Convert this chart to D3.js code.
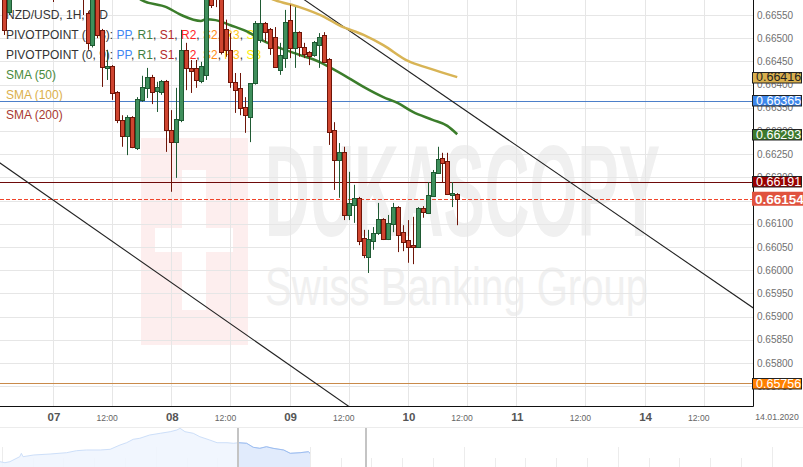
<!DOCTYPE html>
<html><head><meta charset="utf-8">
<script src="https://cdn.jsdelivr.net/npm/d3@7"></script>
<style>html,body{margin:0;padding:0;background:#fff;overflow:hidden}text{font-family:"Liberation Sans",Arial,sans-serif}</style>
</head><body>
<svg id="c" width="803" height="467"></svg>
<script>
// ---------- DATA ----------
// hour index relative to 07.01.2020 00:00
const hourIdx = [-10,-9,-8,-7,-6,-5,-4,-3,-2,-1,0,1,2,3,4,5,6,7,8,9,10,11,12,13,14,15,16,17,18,19,20,21,22,23,24,25,26,27,28,29,30,31,32,33,34,35,36,37,38,39,40,41,42,43,44,45,46,47,48,49,50,51,52,53,54,55,56,57,58,59,60,61,62,63,64,65,66,67,68,69,70,71,72,73,74,75,76,77,78,79,80,81,82];
const opens = [0.66590,0.66556,0.66600,0.66635,0.66650,0.66640,0.66660,0.66680,0.66670,0.66650,0.66630,0.66600,0.66630,0.66645,0.66640,0.66615,0.66620,0.66554,0.66485,0.66600,0.66518,0.66436,0.66440,0.66384,0.66324,0.66289,0.66330,0.66263,0.66367,0.66393,0.66416,0.66386,0.66384,0.66408,0.66302,0.66276,0.66324,0.66475,0.66436,0.66436,0.66408,0.66421,0.66600,0.66600,0.66590,0.66520,0.66475,0.66406,0.66393,0.66352,0.66330,0.66403,0.66496,0.66533,0.66520,0.66503,0.66431,0.66457,0.66539,0.66479,0.66513,0.66481,0.66470,0.66464,0.66485,0.66507,0.66455,0.66302,0.66238,0.66255,0.66119,0.66141,0.66156,0.66069,0.66029,0.66063,0.66080,0.66110,0.66067,0.66100,0.66136,0.66082,0.66065,0.66054,0.66050,0.66134,0.66123,0.66160,0.66210,0.66242,0.66235,0.66162,0.66164];
const highs = [0.66600,0.66615,0.66645,0.66660,0.66670,0.66665,0.66690,0.66700,0.66685,0.66665,0.66645,0.66640,0.66660,0.66670,0.66650,0.66635,0.66630,0.66558,0.66600,0.66610,0.66520,0.66475,0.66442,0.66386,0.66334,0.66334,0.66332,0.66373,0.66419,0.66436,0.66421,0.66406,0.66410,0.66410,0.66345,0.66393,0.66518,0.66490,0.66453,0.66453,0.66449,0.66610,0.66610,0.66615,0.66600,0.66540,0.66511,0.66425,0.66425,0.66373,0.66403,0.66537,0.66590,0.66535,0.66522,0.66524,0.66490,0.66561,0.66572,0.66567,0.66515,0.66490,0.66472,0.66494,0.66511,0.66513,0.66457,0.66319,0.66274,0.66266,0.66212,0.66184,0.66158,0.66087,0.66087,0.66093,0.66145,0.66112,0.66119,0.66145,0.66138,0.66097,0.66108,0.66115,0.66136,0.66138,0.66190,0.66216,0.66266,0.66253,0.66253,0.66190,0.66166];
const lows = [0.66507,0.66550,0.66595,0.66620,0.66630,0.66625,0.66650,0.66660,0.66640,0.66620,0.66578,0.66595,0.66615,0.66625,0.66600,0.66590,0.66550,0.66475,0.66480,0.66500,0.66395,0.66410,0.66367,0.66317,0.66266,0.66248,0.66263,0.66259,0.66363,0.66371,0.66358,0.66341,0.66378,0.66255,0.66169,0.66199,0.66319,0.66388,0.66382,0.66393,0.66403,0.66410,0.66565,0.66567,0.66465,0.66460,0.66393,0.66339,0.66334,0.66296,0.66276,0.66400,0.66490,0.66492,0.66464,0.66436,0.66421,0.66436,0.66457,0.66436,0.66460,0.66457,0.66442,0.66460,0.66436,0.66447,0.66270,0.66173,0.66156,0.66108,0.66108,0.66102,0.66054,0.66026,0.65994,0.66044,0.66076,0.66065,0.66065,0.66082,0.66039,0.66041,0.66016,0.66013,0.66048,0.66113,0.66121,0.66158,0.66208,0.66188,0.66162,0.66136,0.66097];
const closes = [0.66518,0.66600,0.66635,0.66650,0.66640,0.66660,0.66680,0.66670,0.66650,0.66630,0.66600,0.66630,0.66645,0.66640,0.66615,0.66620,0.66585,0.66490,0.66595,0.66507,0.66438,0.66440,0.66382,0.66324,0.66289,0.66330,0.66266,0.66369,0.66395,0.66416,0.66384,0.66395,0.66408,0.66302,0.66276,0.66326,0.66475,0.66436,0.66429,0.66410,0.66440,0.66595,0.66572,0.66585,0.66470,0.66475,0.66406,0.66388,0.66350,0.66334,0.66403,0.66533,0.66533,0.66513,0.66479,0.66438,0.66464,0.66535,0.66479,0.66513,0.66481,0.66466,0.66462,0.66492,0.66503,0.66449,0.66298,0.66238,0.66255,0.66119,0.66145,0.66156,0.66063,0.66033,0.66067,0.66080,0.66110,0.66067,0.66102,0.66136,0.66076,0.66061,0.66050,0.66050,0.66134,0.66125,0.66162,0.66212,0.66240,0.66231,0.66164,0.66166,0.66154];

const sma50Idx = [16,18,23,26,30,31,33,36,40,42,46,50,54,56,60,63,67,70,73,77,80,82];
const sma50Val = [0.66600,0.66582,0.66567,0.66550,0.66537,0.66541,0.66539,0.66528,0.66511,0.66498,0.66479,0.66464,0.66449,0.66438,0.66414,0.66395,0.66373,0.66360,0.66341,0.66324,0.66311,0.66293];
const sma100Idx = [43,45,50,55,58,63,67,72,76,82];
const sma100Val = [0.66591,0.66582,0.66567,0.66546,0.66528,0.66507,0.66485,0.66451,0.66436,0.66416];

// trend lines [hourIdx, price]
const trendUpper = [[51.1,0.66582],[142,0.65919]];
const trendLower = [[-10.75,0.66231],[60.2,0.65705]];

// horizontal levels
const levelValues = [0.66365, 0.66191, 0.65756];
const levelColors = ["#4d7fc9", "#6e0a0a", "#c98a4a"];
const lastPrice = 0.66154;

// right-axis value tags
const tagValues = [0.66416, 0.66365, 0.66293, 0.66191, 0.65756];
const tagFills  = ["#d9b04e", "#3d86ea", "#3c7a2c", "#980000", "#ff8000"];
const tagText   = ["#222", "#fff", "#fff", "#fff", "#fff"];

// y ticks
const yTicks = [0.6575,0.6580,0.6585,0.6590,0.6595,0.6600,0.6605,0.6610,0.6615,0.6620,0.6625,0.6630,0.6635,0.6640,0.6645,0.6650,0.6655];
// x ticks
const xTickIdx = [0,12,24,36,48,60,72,84,94,108,120,132];
const xTickLab = ["07","12:00","08","12:00","09","12:00","10","12:00","11","12:00","14","12:00"];
const xTickMajor = [true,false,true,false,true,false,true,false,true,false,true,false];

// navigator series [hourIdx, price]
const navIdx = [-295,-289,-283,-271,-269,-267,-254,-234,-214,-202,-190,-173,-161,-149,-141,-133,-125,-113,-100,-88,-80,-76,-70,-60,-52,-40,-31,-19,-11,-5,5,13,21,29,37,50,58,70,80,82];
const navVal = [0.65810,0.65770,0.65810,0.66008,0.66142,0.66008,0.66075,0.66114,0.66166,0.66245,0.66273,0.66273,0.66300,0.66471,0.66562,0.66696,0.66736,0.66866,0.66934,0.66997,0.67064,0.67131,0.66997,0.66934,0.66799,0.66668,0.66562,0.66562,0.66538,0.66562,0.66538,0.66380,0.66340,0.66403,0.66340,0.66273,0.66142,0.66166,0.66205,0.66142];

// ---------- LAYOUT ----------
const W=803, H=467, PR=753, PB=406;
const svg = d3.select('#c');
const x = d3.scaleLinear().domain([-10.75,142]).range([0,PR]);
const y = d3.scaleLinear().domain([0.6655-(PB-15)/46400, 0.6655+15/46400]).range([PB,0]);

svg.append('rect').attr('width',W).attr('height',H).attr('fill','#fff');
svg.append('defs').append('clipPath').attr('id','clip').append('rect').attr('x',0).attr('y',0).attr('width',PR).attr('height',PB);

// watermark
const wm = svg.append('g');
wm.append('rect').attr('x',141).attr('y',138).attr('width',107).attr('height',207).attr('fill','#fdeeee');
wm.append('rect').attr('x',182).attr('y',170).attr('width',24).attr('height',140).attr('fill','#fff');
wm.append('rect').attr('x',155).attr('y',228).attr('width',78).attr('height',24).attr('fill','#fff');
wm.append('text').attr('x',265).attr('y',236).attr('font-size',130).attr('font-weight','bold')
  .attr('textLength',395).attr('lengthAdjust','spacingAndGlyphs').attr('fill','#f0f0f0').text('DUKASCOPY');
wm.append('text').attr('x',265).attr('y',305).attr('font-size',54)
  .attr('textLength',383).attr('lengthAdjust','spacingAndGlyphs').attr('fill','#f0f0f0').text('Swiss Banking Group');

// grid
const grid = svg.append('g');
yTicks.forEach(t=>{
  grid.append('line').attr('x1',0).attr('x2',PR).attr('y1',Math.round(y(t))+0.5).attr('y2',Math.round(y(t))+0.5)
    .attr('stroke','#e6e6e6');
});
xTickIdx.forEach(t=>{
  grid.append('line').attr('x1',Math.round(x(t))+0.5).attr('x2',Math.round(x(t))+0.5).attr('y1',0).attr('y2',PB)
    .attr('stroke','#e6e6e6');
});

// legend (behind candles)
const leg = svg.append('g').attr('font-size',12);
leg.append('text').attr('x',6).attr('y',19).attr('fill','#333').text('NZD/USD, 1H, BID');
const pivParts = [["PP","#3f86f2"],["R1","#3f7f3f"],["S1","#b22a2a"],["R2","#ff2424"],["S2","#ff8c1a"],["R3","#ffc61a"],["S3","#ffee00"]];
["PIVOTPOINT (0, 8): ","PIVOTPOINT (0, 9): "].forEach((lab,k)=>{
  const t = leg.append('text').attr('x',6).attr('y',39+20*k);
  t.append('tspan').attr('fill','#333').text(lab);
  pivParts.forEach((p,j)=>{
    t.append('tspan').attr('fill',p[1]).text(p[0]);
    if(j<pivParts.length-1) t.append('tspan').attr('fill','#333').text(', ');
  });
});
leg.append('text').attr('x',6).attr('y',79).attr('fill','#4a8a3a').text('SMA (50)');
leg.append('text').attr('x',6).attr('y',99).attr('fill','#dcb04c').text('SMA (100)');
leg.append('text').attr('x',6).attr('y',119).attr('fill','#a83a30').text('SMA (200)');

const plot = svg.append('g').attr('clip-path','url(#clip)');

// horizontal levels
levelValues.forEach((v,k)=>{
  plot.append('line').attr('x1',0).attr('x2',PR).attr('y1',Math.round(y(v))+0.5).attr('y2',Math.round(y(v))+0.5)
    .attr('stroke',levelColors[k]).attr('stroke-width',1);
});
plot.append('line').attr('x1',0).attr('x2',PR).attr('y1',Math.round(y(lastPrice))+0.5).attr('y2',Math.round(y(lastPrice))+0.5)
  .attr('stroke','#f0442a').attr('stroke-dasharray','4,2');

// trend lines
[trendUpper,trendLower].forEach(tl=>{
  const sl = (tl[1][1]-tl[0][1])/(tl[1][0]-tl[0][0]);
  const a=-20, b=160;
  plot.append('line').attr('x1',x(a)).attr('y1',y(tl[0][1]+sl*(a-tl[0][0])))
    .attr('x2',x(b)).attr('y2',y(tl[0][1]+sl*(b-tl[0][0])))
    .attr('stroke','#222').attr('stroke-width',1.1);
});

// SMA lines
const lineGen = d3.line().x(d=>x(d[0])).y(d=>y(d[1])).curve(d3.curveMonotoneX);
plot.append('path').datum(sma100Idx.map((d,k)=>[d,sma100Val[k]])).attr('d',lineGen)
  .attr('fill','none').attr('stroke','#d8b455').attr('stroke-width',2.5);
plot.append('path').datum(sma50Idx.map((d,k)=>[d,sma50Val[k]])).attr('d',lineGen)
  .attr('fill','none').attr('stroke','#3b7d2b').attr('stroke-width',2.5);

// candles
const candles = hourIdx.map((h,k)=>({h,o:opens[k],hi:highs[k],lo:lows[k],c:closes[k]}));
const cg = plot.append('g');
candles.forEach(d=>{
  const up = d.c>=d.o;
  const cx = Math.round(x(d.h));
  cg.append('line').attr('x1',cx+0.5).attr('x2',cx+0.5).attr('y1',y(d.hi)).attr('y2',y(d.lo))
    .attr('stroke', up?'#1f5a33':'#6e1508').attr('stroke-width',1);
  const top = Math.round(y(Math.max(d.o,d.c))), bot = Math.round(y(Math.min(d.o,d.c)));
  cg.append('rect').attr('x',cx-1.5).attr('y',top+0.5).attr('width',4).attr('height',Math.max(1,bot-top))
    .attr('fill', up?'#3f8f5c':'#cf4530').attr('stroke', up?'#1f5a33':'#6e1508').attr('stroke-width',1);
});

// frame
svg.append('line').attr('x1',0).attr('x2',PR+0.5).attr('y1',PB+0.5).attr('y2',PB+0.5).attr('stroke','#111');
svg.append('line').attr('x1',PR+0.5).attr('x2',PR+0.5).attr('y1',0).attr('y2',PB+0.5).attr('stroke','#111');

// y tick labels
const yl = svg.append('g').attr('font-size',10).attr('fill','#707070');
yTicks.forEach(t=>{
  yl.append('text').attr('x',757).attr('y',y(t)+3.5).text(t.toFixed(5));
});

// value tags
tagValues.forEach((v,k)=>{
  const cy = y(v);
  svg.append('rect').attr('x',752.5).attr('y',Math.round(cy-5.5)+0.5).attr('width',49).attr('height',10.5)
    .attr('fill',tagFills[k]).attr('stroke','#222').attr('stroke-width',1);
  svg.append('text').attr('x',756).attr('y',cy+4.3).attr('font-size',12.5).attr('fill',tagText[k]).text(v.toFixed(5));
});
{
  const cy = y(lastPrice);
  svg.append('rect').attr('x',752).attr('y',cy-7).attr('width',51).attr('height',14).attr('fill','#e0533f');
  svg.append('text').attr('x',755).attr('y',cy+5).attr('font-size',13.5).attr('font-weight','bold').attr('fill','#fff').text(lastPrice.toFixed(5));
}

// x tick labels
const xl = svg.append('g');
xTickIdx.forEach((t,k)=>{
  const maj = xTickMajor[k];
  xl.append('text').attr('x',x(t)+(maj?1:-5)).attr('y',421).attr('text-anchor','middle')
    .attr('font-size',maj?11.5:8.6).attr('font-weight',maj?'bold':'normal').attr('fill',maj?'#555':'#666').text(xTickLab[k]);
});
xl.append('text').attr('x',777).attr('y',420).attr('text-anchor','middle').attr('font-size',8.7).attr('fill','#666').text('14.01.2020');

// navigator
svg.append('line').attr('x1',0).attr('x2',W).attr('y1',427.5).attr('y2',427.5).attr('stroke','#ececec');
const nx = d3.scaleLinear().domain([-295,82]).range([0,310]);
const ny = d3.scaleLinear().domain([0.656,0.656+39/2527]).range([467,428]);
const navData = navIdx.map((d,k)=>[d,navVal[k]]);
for(let k=0;k<=26;k++){
  const px = Math.round(1.7+30.8*k)+0.5;
  svg.append('line').attr('x1',px).attr('x2',px).attr('y1',k%5===0?447:458).attr('y2',467).attr('stroke','#ececec');
}
const area = d3.area().x(d=>nx(d[0])).y0(467).y1(d=>ny(d[1]));
svg.append('path').datum(navData).attr('d',area).attr('fill','#f0f5fe').attr('fill-opacity',0.9);
svg.append('clipPath').attr('id','navsel').append('rect').attr('x',238).attr('y',428).attr('width',128).attr('height',40);
svg.append('path').datum(navData).attr('d',area).attr('fill','#e1ebfc').attr('clip-path','url(#navsel)');
svg.append('path').datum(navData).attr('d',d3.line().x(d=>nx(d[0])).y(d=>ny(d[1]))).attr('fill','none').attr('stroke','#cddff9');
svg.append('path').datum(navData).attr('d',d3.line().x(d=>nx(d[0])).y(d=>ny(d[1]))).attr('fill','none').attr('stroke','#9dbdf0').attr('clip-path','url(#navsel)');
[238,366].forEach(px=>{
  svg.append('line').attr('x1',px).attr('x2',px).attr('y1',428).attr('y2',467).attr('stroke','#c4c4c4').attr('stroke-width',2);
});
</script>
</body></html>
